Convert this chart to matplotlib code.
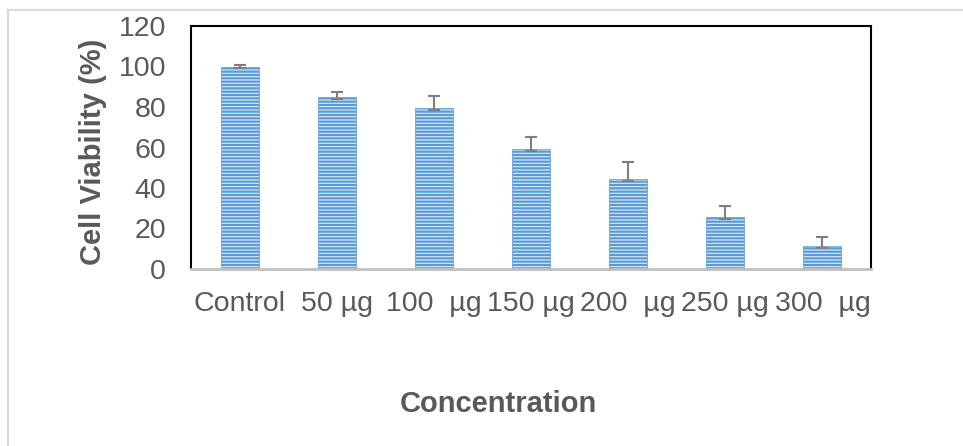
import matplotlib
matplotlib.use("Agg")
import matplotlib.pyplot as plt
from matplotlib.patches import Rectangle

# data
categories = ["Control", "50 µg", "100  µg", "150 µg", "200  µg", "250 µg", "300  µg"]
viability = [100, 85, 79.5, 59.5, 44.5, 25.5, 11.5]
err_upper = [0.5, 2.5, 6, 5.5, 8.5, 5.5, 4.3]
err_lower = [0.5, 1, 1, 1, 1, 1, 1]
y_ticks = [0, 20, 40, 60, 80, 100, 120]

text_color = "#595959"
plt.rcParams["font.family"] = ["Liberation Sans", "DejaVu Sans"]
plt.rcParams["hatch.linewidth"] = 1.6
plt.rcParams["hatch.color"] = "#5B9BD5"

fig = plt.figure(figsize=(9.63, 4.46), dpi=100)

# light grey outer frame of the chart area
fig.patches.append(Rectangle((8 / 963, -0.1), 1.2, 1 - 10 / 446 + 0.1,
                             transform=fig.transFigure, fill=False,
                             edgecolor="#D9D9D9", linewidth=1.5))

ax = fig.add_axes([191 / 963, 1 - 269 / 446, 680 / 963, 243 / 446])
x = range(len(categories))
ax.bar(x, viability, width=0.39, color="#DEEBF7", edgecolor="#5B9BD5",
       linewidth=0.5, hatch="-----", zorder=2)
ax.errorbar(x, viability, yerr=[err_lower, err_upper], fmt="none",
            ecolor="#7F7F7F", elinewidth=1.5, capsize=4.5, capthick=1.5, zorder=3)

ax.set_xlim(-0.5, len(categories) - 0.5)
ax.set_ylim(0, 120)
ax.set_yticks(y_ticks)
ax.set_xticks(list(x))
ax.set_xticklabels(categories)
ax.tick_params(axis="y", length=0, pad=18, labelsize=20.5, labelcolor=text_color)
ax.tick_params(axis="x", length=0, pad=16, labelsize=20.5, labelcolor=text_color)

for side in ["left", "top", "right"]:
    ax.spines[side].set_color("black")
    ax.spines[side].set_linewidth(1.5)
ax.spines["bottom"].set_color("#BFBFBF")
ax.spines["bottom"].set_linewidth(2)

fig.text(93 / 963, 1 - 152 / 446, "Cell Viability (%)", rotation=90,
         ha="center", va="center", fontsize=21, fontweight="bold", color=text_color)
fig.text(498 / 963, 1 - 404 / 446, "Concentration", ha="center", va="center",
         fontsize=21, fontweight="bold", color=text_color)

fig.savefig("out.png", dpi=100)
plt.close()
